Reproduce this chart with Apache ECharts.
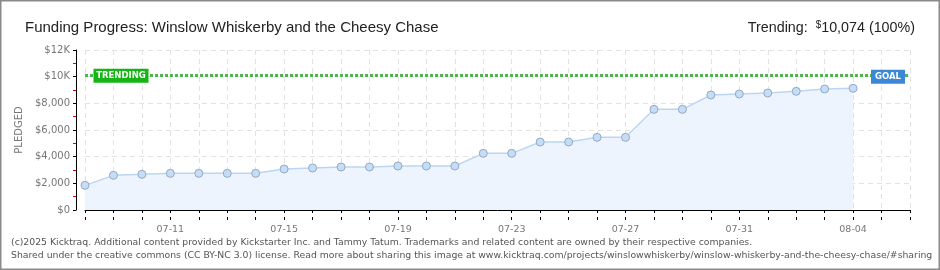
<!DOCTYPE html>
<html><head><meta charset="utf-8">
<script src="https://cdn.jsdelivr.net/npm/echarts@6/dist/echarts.min.js"></script>
<style>html,body{margin:0;padding:0;background:#fff}#c{width:940px;height:270px}</style>
</head><body><div id="c"></div>
<script>
const categories = ['07-08','07-09','07-10','07-11','07-12','07-13','07-14','07-15','07-16','07-17','07-18','07-19','07-20','07-21','07-22','07-23','07-24','07-25','07-26','07-27','07-28','07-29','07-30','07-31','08-01','08-02','08-03','08-04','08-05','08-06'];
const pledged = [1850,2600,2675,2750,2750,2750,2750,3075,3150,3225,3225,3300,3300,3300,4250,4250,5100,5100,5450,5450,7550,7550,8625,8700,8775,8900,9075,9125,null,null];
const trendingValue = 10074;
const goalValue = 10000;
const yTicks = [0,2000,4000,6000,8000,10000,12000];
const titleText = 'Funding Progress: Winslow Whiskerby and the Cheesy Chase';
const footer1 = '(c)2025 Kicktraq. Additional content provided by Kickstarter Inc. and Tammy Tatum. Trademarks and related content are owned by their respective companies.';
const footer2 = 'Shared under the creative commons (CC BY-NC 3.0) license. Read more about sharing this image at www.kicktraq.com/projects/winslowwhiskerby/winslow-whiskerby-and-the-cheesy-chase/#sharing';

const chart = echarts.init(document.getElementById('c'), null, {renderer:'canvas'});
const fmtY = v => v >= 10000 ? '$' + (v/1000) + 'K' : '$' + v.toLocaleString('en-US');

chart.setOption({
  animation:false,
  backgroundColor:'#fff',
  title:[
    {text:titleText,left:20,top:15,textStyle:{fontFamily:'Liberation Sans',fontSize:15,fontWeight:'normal',color:'#222'}},
    {text:'Trending:  {s|$}10,074 (100%)',right:20,top:15,textStyle:{fontFamily:'Liberation Sans',fontSize:14.3,fontWeight:'normal',color:'#222',rich:{s:{fontSize:10,verticalAlign:'top',fontFamily:'Liberation Sans',color:'#222',padding:[0,0,6,0]}}}}
  ],
  graphic:[
    {type:'rect',shape:{x:0.5,y:0.5,width:939,height:269},style:{fill:'none',stroke:'#8a8a8a',lineWidth:2}},
    {type:'text',left:11,top:238,style:{text:footer1,font:'9.3px "DejaVu Sans"',fill:'#555'}},
    {type:'text',left:11,top:251,style:{text:footer2,font:'9.3px "DejaVu Sans"',fill:'#555'}}
  ],
  grid:{left:85,right:30,top:50,bottom:60},
  xAxis:[{
    type:'category',data:categories,boundaryGap:false,offset:10,
    axisLine:{lineStyle:{color:'#000',width:1}},
    axisTick:{show:true,interval:0,length:3,lineStyle:{color:'#000'}},
    axisLabel:{interval:(i)=> i%4===3,color:'#777',fontFamily:'DejaVu Sans',fontSize:9.5,margin:5},
    splitLine:{show:true,interval:0,lineStyle:{color:'#e2e2e2',type:[5,4]}}
  },{
    type:'category',data:categories,boundaryGap:false,offset:10,position:'bottom',
    axisLine:{show:false},
    axisTick:{show:true,inside:true,interval:0,length:3,lineStyle:{color:'#000'}},
    axisLabel:{show:false},splitLine:{show:false}
  }],
  yAxis:{
    type:'value',min:0,max:12000,interval:2000,offset:9,
    name:'PLEDGED',nameLocation:'middle',nameGap:51,nameRotate:90,
    nameTextStyle:{color:'#777',fontFamily:'DejaVu Sans',fontSize:10},
    axisLine:{show:true,lineStyle:{color:'#000'}},
    axisTick:{show:true,length:3,lineStyle:{color:'#000'}},
    minorTick:{show:true,splitNumber:2,length:3,lineStyle:{color:'#e00'}},
    axisLabel:{formatter:fmtY,color:'#777',fontFamily:'DejaVu Sans',fontSize:10,margin:6},
    splitLine:{show:true,lineStyle:{color:'#e2e2e2',type:[5,4]}}
  },
  series:[{
    type:'line',data:pledged,xAxisIndex:0,
    symbol:'circle',symbolSize:8,showSymbol:true,connectNulls:false,
    lineStyle:{color:'#bcd6f2',width:1.5},
    itemStyle:{color:'#c6ddf6',borderColor:'#93a9c6',borderWidth:1},
    areaStyle:{color:'#edf4fd',opacity:1},
    markLine:{
      silent:true,symbol:'none',
      lineStyle:{color:'#4cb84c',type:[3,2],width:3},
      label:{show:false},
      data:[{yAxis:trendingValue}]
    },
    markPoint:{
      silent:true,
      data:[
        {coord:[categories[0],trendingValue],symbol:'rect',symbolSize:[55,14],symbolOffset:[36,0],
          itemStyle:{color:'#14b514'},
          label:{show:true,formatter:'TRENDING',color:'#fff',fontFamily:'DejaVu Sans',fontSize:8.5,fontWeight:'bold'}},
        {coord:[categories[categories.length-1],goalValue],symbol:'rect',symbolSize:[34,14],symbolOffset:[-22,0],
          itemStyle:{color:'#3b88d6'},
          label:{show:true,formatter:'GOAL',color:'#fff',fontFamily:'DejaVu Sans',fontSize:8.5,fontWeight:'bold'}}
      ]
    }
  }]
});
</script></body></html>
